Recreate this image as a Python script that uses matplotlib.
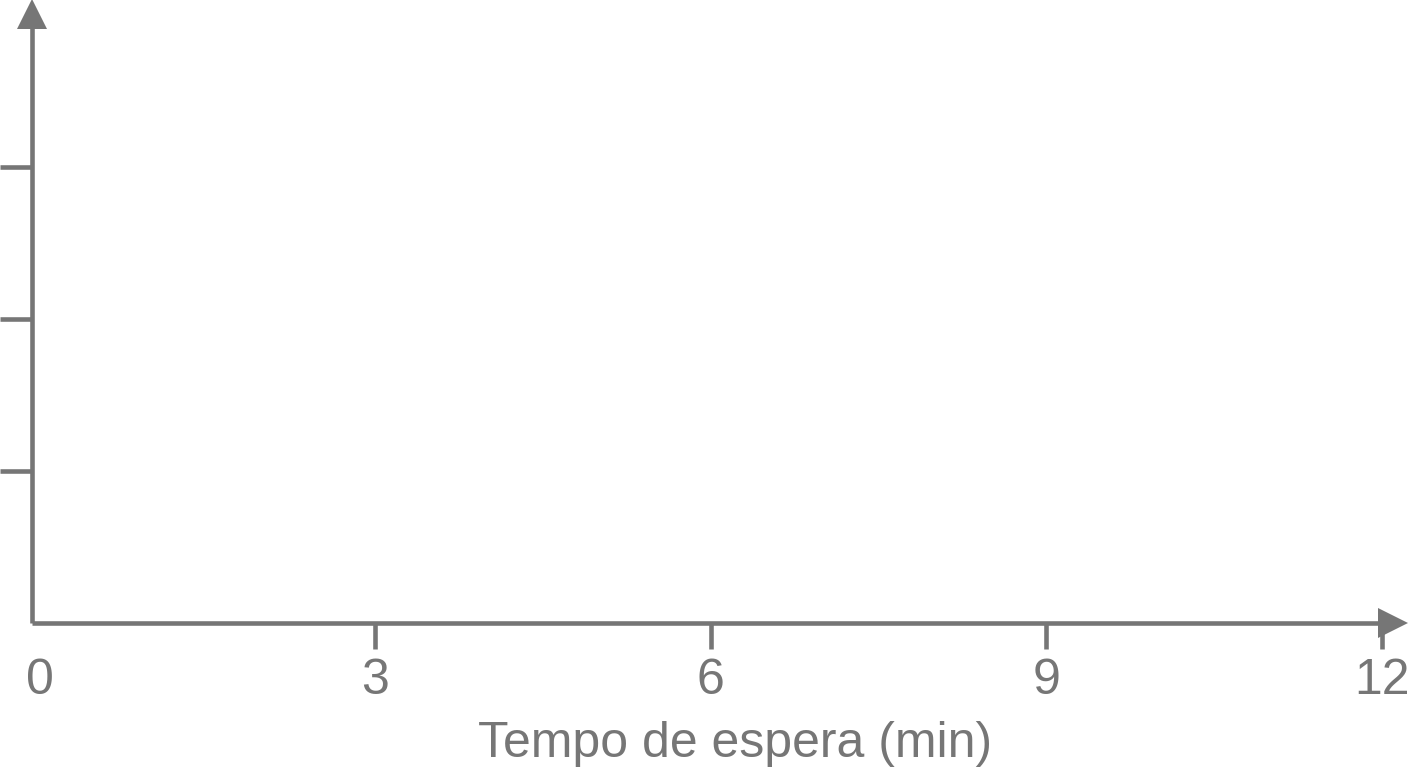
import matplotlib
matplotlib.use("Agg")
import matplotlib.pyplot as plt

# eixo x: tempo de espera em minutos
x_ticks = [0, 3, 6, 9, 12]
x_labels = ["0", "3", "6", "9", "12"]
# eixo y sem rótulos, só marcas
y_ticks = [1, 2, 3]

cor = "#767676"
plt.rcParams["font.family"] = ["Liberation Sans", "DejaVu Sans"]

fig = plt.figure(figsize=(14.08, 7.68), dpi=100)
ax = fig.add_axes([32 / 1408, 145 / 768, 1361 / 1408, 609 / 768])

ax.set_xlim(-0.0716, 12.10)
ax.set_ylim(0, 4.01)

for s in ["top", "right"]:
    ax.spines[s].set_visible(False)
for s in ["left", "bottom"]:
    ax.spines[s].set_color(cor)
    ax.spines[s].set_linewidth(3.3)
    ax.spines[s].set_capstyle("butt")

ax.set_xticks(x_ticks)
ax.set_xticklabels(x_labels)
ax.set_yticks(y_ticks)
ax.set_yticklabels([])
ax.tick_params(axis="x", direction="out", length=19, width=3.3, color=cor,
               labelcolor=cor, labelsize=36, pad=6.5)
ax.tick_params(axis="y", direction="out", length=23, width=3.3, color=cor)
ax.xaxis.get_major_ticks()[0].tick1line.set_visible(False)

ax.set_xlabel("Tempo de espera (min)", fontsize=36, color=cor)
ax.xaxis.set_label_coords((735 - 32) / 1361, -0.161)

# pontas de seta nos eixos
ax.plot([0], [1], marker="^", ms=21, color=cor, transform=ax.transAxes,
        clip_on=False, mew=0)
ax.plot([1], [0], marker=">", ms=21, color=cor, transform=ax.transAxes,
        clip_on=False, mew=0)

fig.savefig("out.png", dpi=100, facecolor="white")
